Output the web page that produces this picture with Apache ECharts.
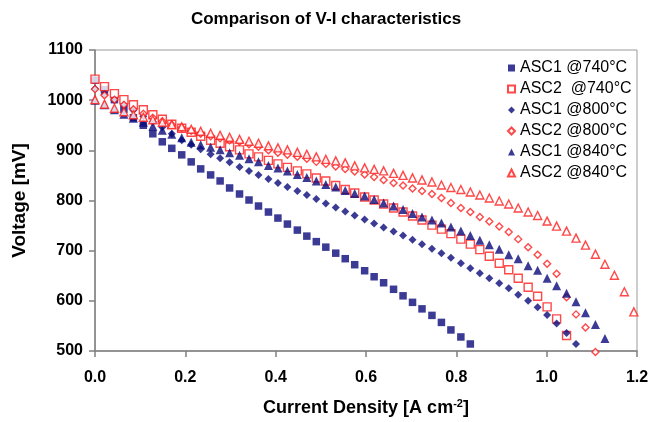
<!DOCTYPE html>
<html><head><meta charset="utf-8">
<script src="https://cdn.jsdelivr.net/npm/echarts@6/dist/echarts.min.js"></script>
<style>html,body{margin:0;padding:0;background:#fff}#c{width:652px;height:422px}</style>
</head><body><div id="c"></div>
<script>
// Current density grid [A cm-2] shared by all measurements
const current = [0.000,0.021,0.043,0.064,0.085,0.107,0.128,0.149,0.170,0.192,0.213,0.234,0.256,0.277,0.298,0.320,0.341,0.362,0.384,0.405,0.426,0.448,0.469,0.490,0.511,0.533,0.554,0.575,0.597,0.618,0.639,0.661,0.682,0.703,0.724,0.746,0.767,0.788,0.810,0.831,0.852,0.873,0.895,0.916,0.937,0.959,0.980,1.001,1.022,1.044,1.065,1.086,1.108,1.129,1.150,1.172,1.193];

// Voltages [mV]
const asc1_740 = [1040,1021,1001,982,965,950,933,917,904,891,877,863,851,839,825,813,801,789,777,765,753,741,729,718,707,695,684,672,660,648,636,623,610,597,584,571,557,542,528,514];
const asc2_740 = [1042,1027,1013,1001,991,981,971,962,952,944,936,928,920,914,907,901,893,887,880,873,866,859,853,845,839,830,822,815,807,801,793,785,777,769,761,751,743,734,723,713,702,689,675,662,645,627,609,588,564,531];
const asc1_800 = [1023,1012,1000,990,980,968,957,946,933,920,911,902,892,884,876,867,859,851,843,835,827,819,811,803,794,786,778,770,762,754,746,738,730,722,713,704,695,686,675,665,655,645,635,625,612,600,587,572,555,536,514];
const asc2_800 = [1022,1010,1001,991,982,973,965,958,951,945,939,933,928,924,920,917,912,907,900,895,891,887,883,877,873,868,863,858,852,847,841,835,830,824,819,813,805,795,785,777,767,758,748,737,723,707,692,674,654,607,573,547,498];
const asc1_840 = [1000,991,981,972,964,956,948,940,932,925,916,911,906,901,895,890,883,877,870,865,859,852,846,839,832,827,820,814,809,802,795,789,782,774,767,761,755,747,739,730,721,712,703,692,684,670,661,645,630,615,598,576,553,525];
const asc2_840 = [1001,992,984,977,971,966,961,956,951,947,942,938,934,930,926,922,918,914,909,905,901,896,892,887,882,879,875,869,865,862,859,854,850,845,841,837,831,826,822,817,811,805,799,793,785,777,770,759,749,739,725,711,693,673,651,618,578];

const seriesNames = ['ASC1 @740°C','ASC2  @740°C','ASC1 @800°C','ASC2 @800°C','ASC1 @840°C','ASC2 @840°C'];
const xTicks = [0,0.2,0.4,0.6,0.8,1.0,1.2];
const yTicks = [500,600,700,800,900,1000,1100];

const NAVY = '#0a0a7a', RED = '#ff1a1a';
const FONT = 'Liberation Sans, Arial, sans-serif';
const pair = v => v.map((y,i)=>[current[i], y]);

const styles = [
  {symbol:'rect', size:7.5, itemStyle:{color:NAVY}},
  {symbol:'rect', size:8, itemStyle:{color:'#fff', borderColor:RED, borderWidth:1.4}},
  {symbol:'diamond', size:8, itemStyle:{color:NAVY}},
  {symbol:'diamond', size:7, itemStyle:{color:'#fff', borderColor:RED, borderWidth:1.4}},
  {symbol:'triangle', size:9, itemStyle:{color:NAVY}},
  {symbol:'triangle', size:8, itemStyle:{color:'#fff', borderColor:RED, borderWidth:1.4}}
];
const datas = [asc1_740, asc2_740, asc1_800, asc2_800, asc1_840, asc2_840];

const chart = echarts.init(document.getElementById('c'), null, {renderer:'canvas'});
chart.setOption({
  animation:false,
  backgroundColor:'#fff',
  title:{text:'Comparison of V-I characteristics', left:'center', top:6,
    textStyle:{fontFamily:FONT, fontSize:17, fontWeight:'bold', color:'#000'}},
  grid:{left:95, right:15, top:50, bottom:71, show:true, borderColor:'#9a9a9a', borderWidth:1},
  legend:{orient:'vertical', left:502, top:55, itemWidth:7, itemHeight:7, itemGap:5,
    textStyle:{fontFamily:FONT, fontSize:16, color:'#000', lineHeight:16},
    data:seriesNames},
  xAxis:{type:'value', min:xTicks[0], max:xTicks[xTicks.length-1], interval:0.2,
    axisLine:{show:true, onZero:false, lineStyle:{color:'#808080', width:1.5}},
    axisTick:{show:true, length:6, lineStyle:{color:'#808080', width:1.5}},
    splitLine:{show:false},
    axisLabel:{margin:19, fontFamily:FONT, fontSize:16, fontWeight:'bold', color:'#000',
      formatter:v=>v.toFixed(1)},
    name:'{a|Current Density [A cm}{s|-2}{a|]}', nameLocation:'middle', nameGap:47,
    nameTextStyle:{rich:{
      a:{fontFamily:FONT, fontSize:18, fontWeight:'bold', color:'#000'},
      s:{fontFamily:FONT, fontSize:11, fontWeight:'bold', color:'#000', padding:[0,0,9,0]}}}},
  yAxis:{type:'value', min:yTicks[0], max:yTicks[yTicks.length-1], interval:100,
    axisLine:{show:true, lineStyle:{color:'#808080', width:1.5}},
    axisTick:{show:true, length:6, lineStyle:{color:'#808080', width:1.5}},
    splitLine:{show:false},
    axisLabel:{margin:12, fontFamily:FONT, fontSize:16, fontWeight:'bold', color:'#000',
      formatter:v=>String(v)},
    name:'Voltage [mV]', nameLocation:'middle', nameGap:66, nameRotate:90,
    nameTextStyle:{fontFamily:FONT, fontSize:19, fontWeight:'bold', color:'#000'}},
  series: datas.map((d,i)=>({
    name:seriesNames[i], type:'scatter', symbol:styles[i].symbol, symbolSize:styles[i].size,
    itemStyle:styles[i].itemStyle, data:pair(d), clip:false
  }))
});
</script></body></html>
